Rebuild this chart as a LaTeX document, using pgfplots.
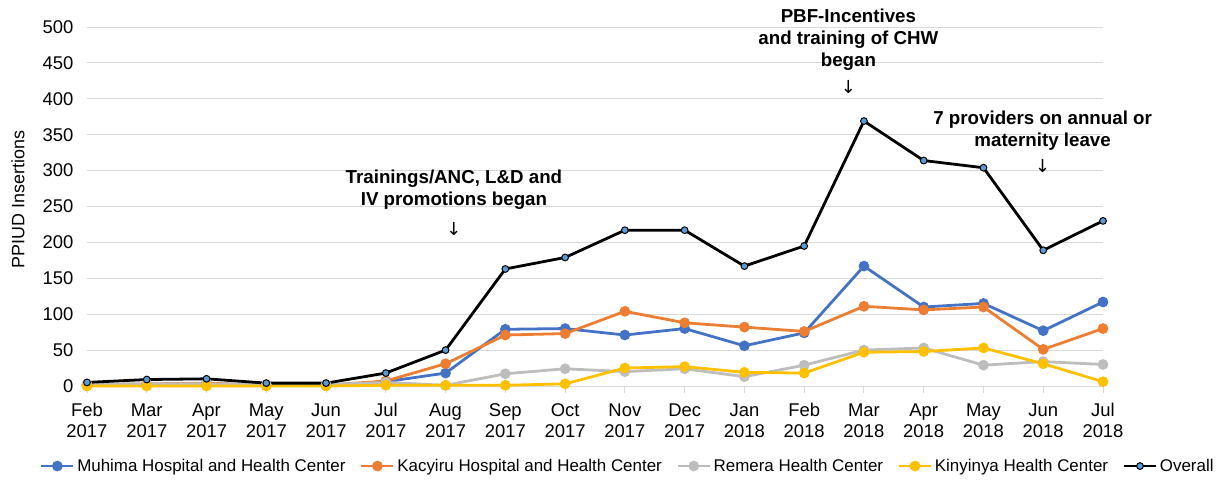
\documentclass[border=0pt]{standalone}
\usepackage{fontspec}
\setmainfont{Liberation Sans}
\newfontfamily\djv{DejaVu Sans}
\usepackage{pgfplots}
\usepackage{pgfplotstable}
\pgfplotsset{compat=1.18}
\definecolor{cBlue}{HTML}{4472C4}
\definecolor{cOrange}{HTML}{ED7D31}
\definecolor{cGray}{HTML}{BDBDBD}
\definecolor{cYellow}{HTML}{FFC000}
\definecolor{cLight}{HTML}{5B9BD5}
\definecolor{cGrid}{HTML}{D9D9D9}
\pgfplotstableread{
x muhima kacyiru remera kinyinya overall
0 1 2 2 0 5
1 2 3 3 0 9
2 3 4 3 0 10
3 1 1 2 0 4
4 1 1 2 0 4
5 6 7 5 1 18
6 18 31 1 1 50
7 79 71 17 1 163
8 80 73 24 3 179
9 71 104 20 25 217
10 80 88 24 27 217
11 56 82 13 19 167
12 74 76 29 18 195
13 167 111 50 47 369
14 110 106 53 48 314
15 115 110 29 53 304
16 77 51 34 31 189
17 117 80 30 6 230
}\datatable
\begin{document}
\begin{tikzpicture}
\useasboundingbox (-87bp,-94bp) rectangle (1138bp,386bp);
\begin{axis}[
  at={(0,0)}, anchor=south west,
  scale only axis, width=1016bp, height=359bp,
  xmin=0, xmax=17, ymin=0, ymax=500,
  ytick={0,50,...,500},
  xtick={0,...,17},
  xticklabels={Feb\\2017,Mar\\2017,Apr\\2017,May\\2017,Jun\\2017,Jul\\2017,Aug\\2017,Sep\\2017,Oct\\2017,Nov\\2017,Dec\\2017,Jan\\2018,Feb\\2018,Mar\\2018,Apr\\2018,May\\2018,Jun\\2018,Jul\\2018},
  /pgf/number format/assume math mode=true,
  xticklabel style={align=center, font=\fontsize{18.5}{21}\selectfont, yshift=-7bp},
  yticklabel style={font=\fontsize{18.5}{21}\selectfont, xshift=-3bp},
  ymajorgrids, grid style={cGrid, line width=1pt},
  separate axis lines,
  axis x line*=bottom, axis y line*=left,
  x axis line style={cGrid, line width=1pt},
  y axis line style={draw=none},
  ytick style={draw=none},
  xtick style={cGrid, line width=1pt},
  tick align=outside, major tick length=7bp,
  ylabel={PPIUD Insertions},
  ylabel style={font=\fontsize{18}{21}\selectfont, at={(axis description cs:-0.068,0.52)}, anchor=center},
  clip=false,
  legend columns=5,
  legend style={at={(axis description cs:0.5325,-0.223)}, anchor=center, draw=none,
    font=\fontsize{17}{20}\selectfont,
    nodes={inner xsep=2.5bp},
    /tikz/every even column/.append style={column sep=12bp}},
  legend image code/.code={\draw[mark repeat=2,mark phase=2] plot coordinates {(0bp,0bp)(16bp,0bp)(32bp,0bp)};},
  every axis plot/.append style={line width=2.8pt, mark=*, mark size=3.9pt},
]
\addplot[color=cBlue, mark options={fill=cBlue, draw=cBlue}] table[x=x,y=muhima]{\datatable};
\addlegendentry{Muhima Hospital and Health Center}
\addplot[color=cOrange, mark options={fill=cOrange, draw=cOrange}] table[x=x,y=kacyiru]{\datatable};
\addlegendentry{Kacyiru Hospital and Health Center}
\addplot[color=cGray, mark options={fill=cGray, draw=cGray}] table[x=x,y=remera]{\datatable};
\addlegendentry{Remera Health Center}
\addplot[color=cYellow, mark options={fill=cYellow, draw=cYellow}] table[x=x,y=kinyinya]{\datatable};
\addlegendentry{Kinyinya Health Center}
\addplot[color=black, mark size=3.4pt, mark options={fill=cLight, draw=black, line width=1pt}] table[x=x,y=overall]{\datatable};
\addlegendentry{Overall}
\node[font=\bfseries\fontsize{18.8}{22}\selectfont, align=center] at (axis cs:6.14,273.7) {Trainings/ANC, L\&D and\\IV promotions began};
\node[font=\djv\fontsize{18}{20}\selectfont] at (axis cs:6.14,219) {↓};
\node[font=\bfseries\fontsize{18.8}{22}\selectfont, align=center] at (axis cs:12.74,482) {PBF-Incentives\\and training of CHW\\began};
\node[font=\djv\fontsize{18}{20}\selectfont] at (axis cs:12.74,416) {↓};
\node[font=\bfseries\fontsize{18.8}{22}\selectfont, align=center] at (axis cs:15.99,355) {7 providers on annual or\\maternity leave};
\node[font=\djv\fontsize{18}{20}\selectfont] at (axis cs:15.99,306) {↓};
\end{axis}
\end{tikzpicture}
\end{document}
